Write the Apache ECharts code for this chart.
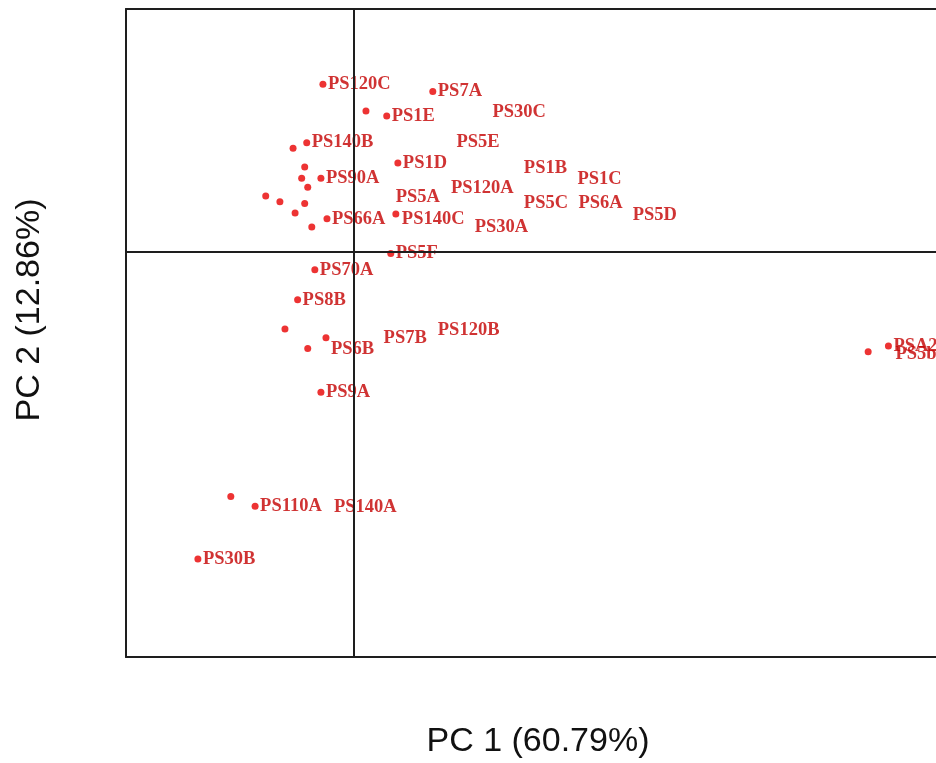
<!DOCTYPE html>
<html>
<head>
<meta charset="utf-8">
<script src="https://cdn.jsdelivr.net/npm/echarts@6/dist/echarts.min.js"></script>
<style>html,body{margin:0;padding:0;background:#fff}#c{width:936px;height:763px}</style>
</head>
<body>
<div id="c"></div>
<script>
// Labelled samples (dot + label)
const labeledNames = ['PS120C','PS7A','PS1E','PS140B','PS1D','PS90A','PS66A','PS5F','PS70A','PS8B','PS9A','PS110A','PS30B','PSA2'];
const labeledPC1   = [-0.61, 1.56, 0.65, -0.93, 0.87, -0.65, -0.53, 0.73, -0.77, -1.11, -0.65, -1.95, -3.08, 10.56];
const labeledPC2   = [2.07, 1.98, 1.68, 1.35, 1.10, 0.91, 0.41, -0.02, -0.22, -0.59, -1.73, -3.14, -3.79, -1.16];

// Unlabelled dots (incl. dots whose label sits offset from them)
const plainPC1 = [0.24, -1.20, -0.97, -1.03, -0.91, -1.74, -1.46, -0.97, -1.16, -0.83, -1.36, -0.91, -2.43, 10.16, 0.83, -0.55];
const plainPC2 = [1.74, 1.28, 1.05, 0.91, 0.80, 0.69, 0.62, 0.60, 0.48, 0.31, -0.95, -1.19, -3.02, -1.23, 0.47, -1.06];

// Labels drawn without a visible dot
const textNames = ['PS30C','PS5E','PS1B','PS1C','PS120A','PS5A','PS5C','PS6A','PS5D','PS30A','PS7B','PS120B','PS140A','PS5b','PS140C','PS6B'];
const textPC1   = [2.64, 1.93, 3.26, 4.32, 1.82, 0.73, 3.26, 4.34, 5.41, 2.29, 0.49, 1.56, -0.49, 10.60, 0.85, -0.55];
const textPC2   = [1.73, 1.35, 1.04, 0.90, 0.79, 0.68, 0.60, 0.60, 0.46, 0.30, -1.06, -0.96, -3.15, -1.26, 0.40, -1.20];

const xTitle = 'PC 1 (60.79%)';
const yTitle = 'PC 2 (12.86%)';

const zip = (xs, ys, ns) => xs.map((x, i) => ns ? { name: ns[i], value: [x, ys[i]] } : [x, ys[i]]);

const labelStyle = {
  show: true, position: 'right', distance: 1.5, formatter: '{b}',
  color: '#c40000', fontFamily: '"Liberation Serif", "Times New Roman", serif',
  fontWeight: 'bold', fontSize: 18.5
};
const dotColor = '#e80000';
const frame = { show: true, onZero: false, lineStyle: { color: '#1e1e1e', width: 2 } };
const hidden = { axisTick: { show: false }, axisLabel: { show: false }, splitLine: { show: false } };

const chart = echarts.init(document.getElementById('c'));
chart.setOption({
  animation: false,
  backgroundColor: '#ffffff',
  grid: { left: 126, top: 9, right: 0, bottom: 106, show: false },
  xAxis: [
    Object.assign({ type: 'value', min: -4.5, max: 11.5, position: 'bottom', axisLine: frame }, hidden),
    Object.assign({ type: 'value', min: -4.5, max: 11.5, position: 'top', axisLine: frame }, hidden)
  ],
  yAxis: Object.assign({ type: 'value', min: -5, max: 3, position: 'left', axisLine: frame }, hidden),
  series: [
    {
      type: 'scatter', symbolSize: 7, silent: true,
      itemStyle: { color: dotColor },
      data: zip(plainPC1, plainPC2),
      markLine: {
        silent: true, symbol: ['none', 'none'], label: { show: false },
        lineStyle: { color: '#1e1e1e', width: 2, type: 'solid' },
        data: [{ xAxis: 0 }, { yAxis: 0 }]
      }
    },
    {
      type: 'scatter', symbolSize: 7, silent: true,
      itemStyle: { color: dotColor },
      label: labelStyle,
      data: zip(labeledPC1, labeledPC2, labeledNames)
    },
    {
      type: 'scatter', symbolSize: 7, silent: true,
      itemStyle: { color: 'rgba(0,0,0,0)' },
      label: labelStyle,
      data: zip(textPC1, textPC2, textNames)
    }
  ],
  graphic: [
    { type: 'text', x: 538, y: 742, silent: true,
      style: { text: xTitle, fontSize: 34, fontFamily: '"Liberation Sans", Arial, sans-serif', fill: '#111', align: 'center', verticalAlign: 'middle' } },
    { type: 'text', x: 30, y: 310, rotation: Math.PI / 2, silent: true,
      style: { text: yTitle, fontSize: 34, fontFamily: '"Liberation Sans", Arial, sans-serif', fill: '#111', align: 'center', verticalAlign: 'middle' } }
  ]
});
</script>
</body>
</html>
